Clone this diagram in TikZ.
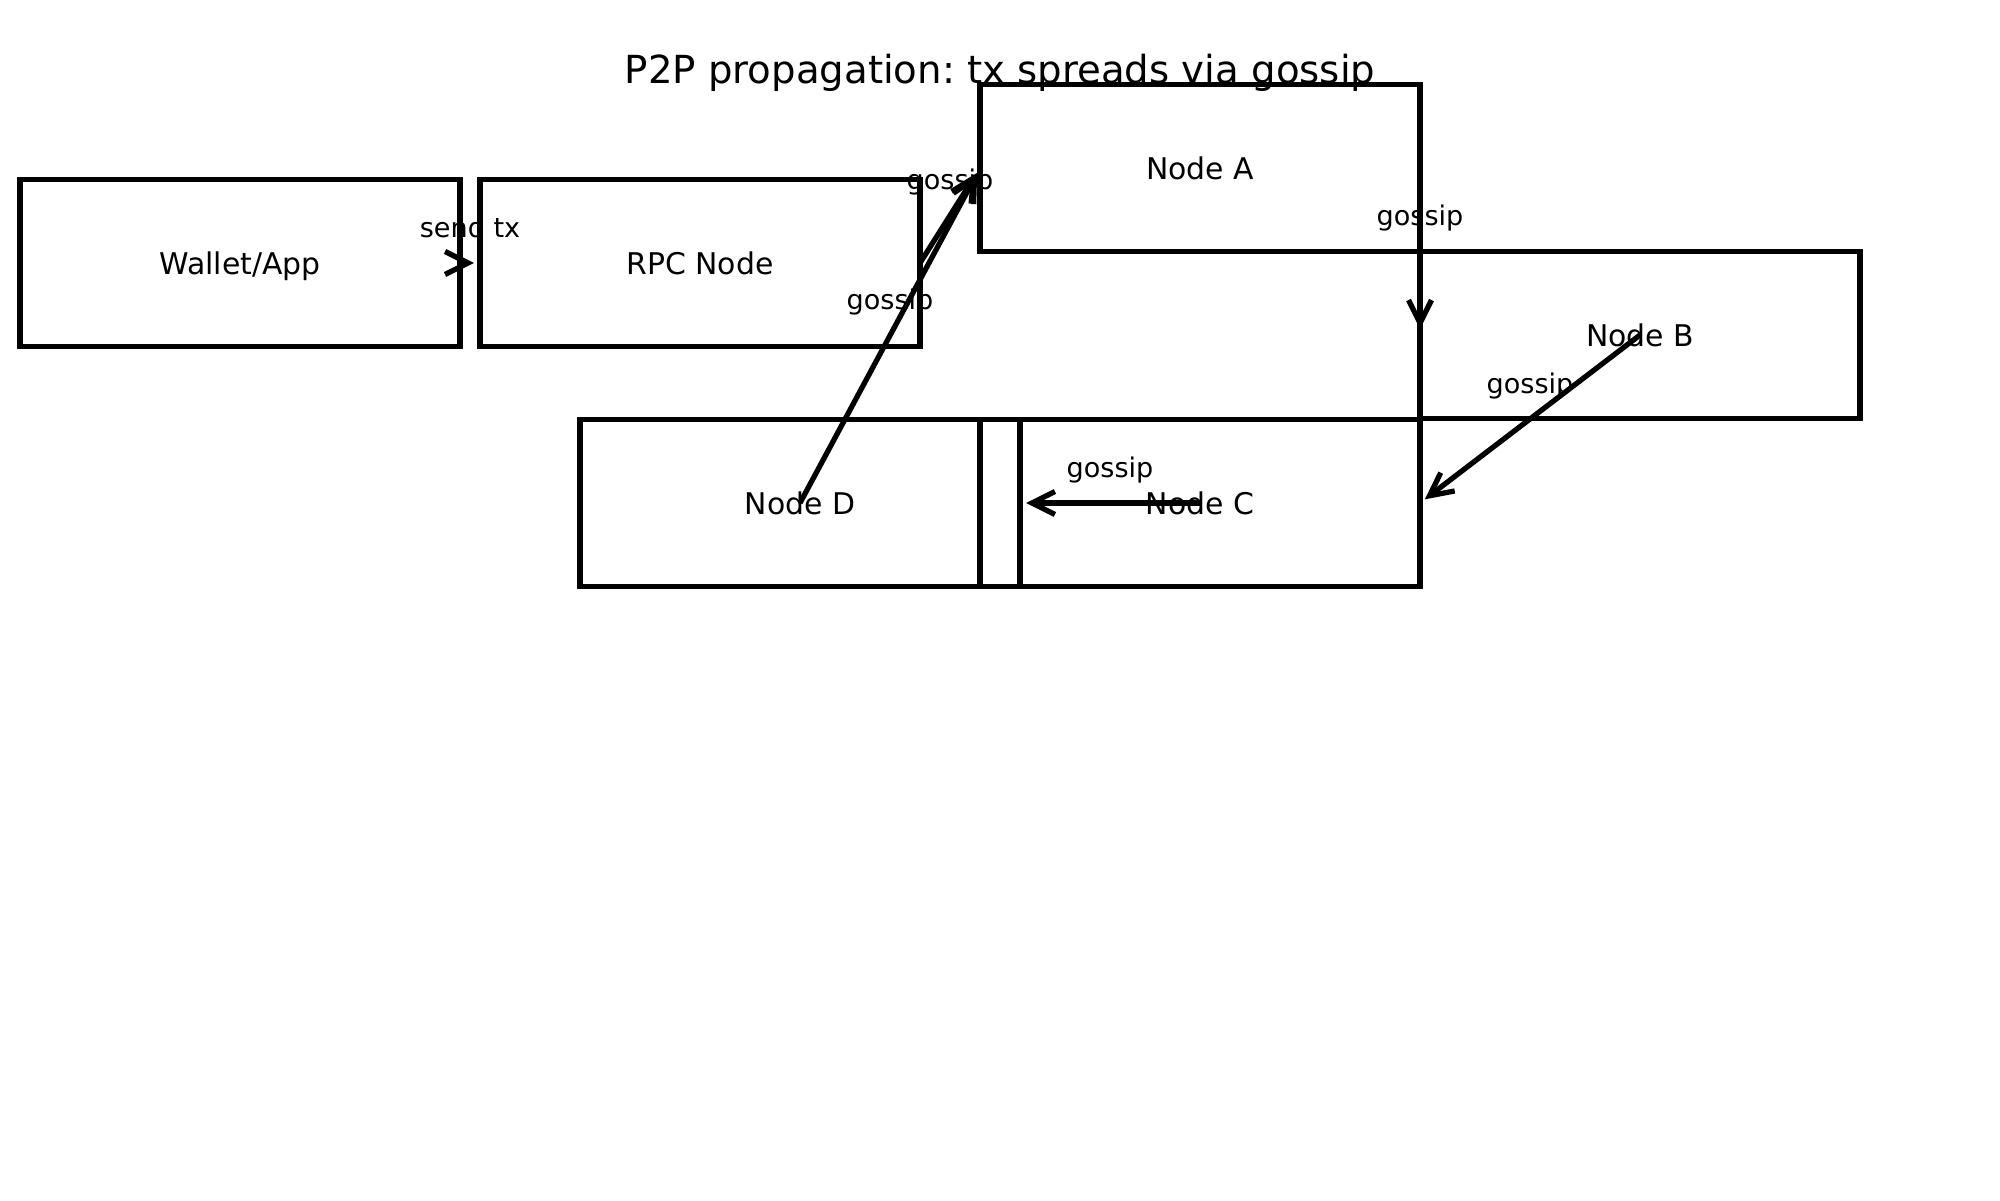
\documentclass[tikz,border=0pt]{standalone}
\usepackage{fontspec}
\setmainfont{DejaVu Sans}
\frenchspacing
\usetikzlibrary{arrows.meta, positioning}

\begin{document}
\begin{tikzpicture}[
  peer/.style={draw, line width=1.55pt, minimum width=4.4cm, minimum height=1.67cm, inner sep=0pt, outer sep=0pt, text height=1.6ex, text depth=0.45ex, font=\fontsize{8.5}{10}\selectfont},
  gossipedge/.style={line width=1.5pt, -{Straight Barb[length=2.3mm, width=2.3mm]}, shorten >=0.6mm},
  edgelbl/.style={midway, yshift=3.7mm, text height=1.6ex, text depth=0.45ex, font=\fontsize{7.7}{9}\selectfont}
]
  \useasboundingbox (0,0) rectangle (20,12);
  \node (title) at (10,11.27) {\fontsize{11}{13}\selectfont P2P propagation: tx spreads via gossip};

  % peers
  \node[peer] (wallet) at (2.40,9.37) {Wallet/App};
  \node[peer, right=0.2cm of wallet] (rpc) {RPC Node};
  \node[peer] (nodeA) at (12.00,10.32) {Node A};
  \node[peer] (nodeB) at (16.40,8.65) {Node B};
  \node[peer] (nodeC) at (12.00,6.97) {Node C};
  \node[peer] (nodeD) at (8.00,6.97) {Node D};

  % propagation
  \draw[gossipedge] (wallet.east) -- (rpc.west) node[edgelbl] {send tx};
  \draw[gossipedge] (rpc.east) -- (nodeA.west) node[edgelbl] {gossip};
  \draw[gossipedge] (nodeA.east) -- (nodeB.west) node[edgelbl] {gossip};
  \draw[gossipedge] (nodeB.center) -- (nodeC.east) node[edgelbl] {gossip};
  \draw[gossipedge] (nodeC.center) -- (nodeD.east) node[edgelbl] {gossip};
  \draw[gossipedge] (nodeD.center) -- (nodeA.west) node[edgelbl] {gossip};
\end{tikzpicture}
\end{document}
